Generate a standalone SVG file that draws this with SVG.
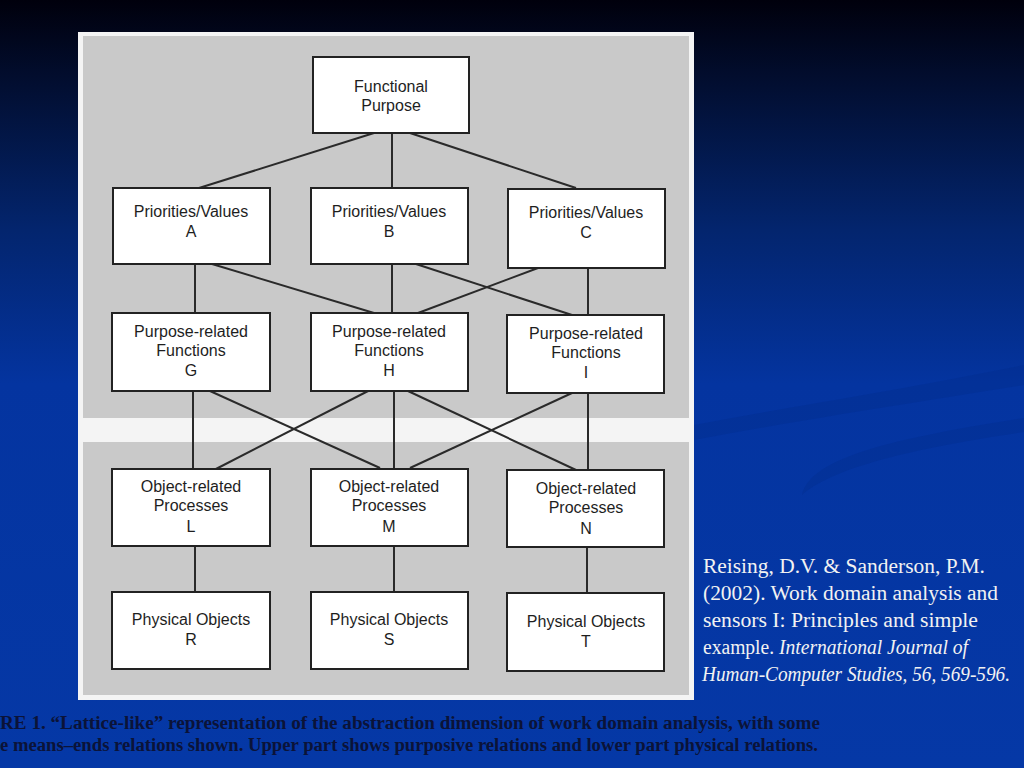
<svg xmlns="http://www.w3.org/2000/svg" width="1024" height="768" viewBox="0 0 1024 768">
<defs>
<linearGradient id="bg" x1="0" y1="0" x2="0" y2="1">
<stop offset="0" stop-color="#00000c"/>
<stop offset="0.1" stop-color="#020d2e"/>
<stop offset="0.3" stop-color="#03256e"/>
<stop offset="0.5" stop-color="#0434a0"/>
<stop offset="1" stop-color="#0538a6"/>
</linearGradient>
<style>
.box{fill:#ffffff;stroke:#222222;stroke-width:2}
.t{font-family:"Liberation Sans",Arial,sans-serif;font-size:16px;fill:#1e1e1e;text-anchor:middle}
.c line{stroke:#2a2a2a;stroke-width:2}
.cite{font-family:"Liberation Serif","Times New Roman",serif;font-size:20.5px;fill:#f2f2f2}
.cap{font-family:"Liberation Serif","Times New Roman",serif;font-size:18px;font-weight:bold;fill:#0b1338}
.sw{fill:#022a88;opacity:0.3}
</style>
</defs>
<rect width="1024" height="768" fill="url(#bg)"/>
<path class="sw" d="M694 425 C800 405 900 390 1024 365 L1024 385 C900 405 800 420 694 440 Z"/>
<path class="sw" d="M802 495 C810 460 880 440 1024 418 L1024 432 C900 450 830 470 802 495 Z"/>
<!-- panel -->
<rect x="78" y="32" width="616" height="668" fill="#f4f4f4"/>
<rect x="83" y="36" width="606" height="382" fill="#c9c9c9"/>
<rect x="83" y="442" width="606" height="253" fill="#c9c9c9"/>
<g class="c" id="connectors">
<line x1="374" y1="133" x2="199" y2="188"/>
<line x1="392" y1="133" x2="392" y2="188"/>
<line x1="410" y1="133" x2="576" y2="188"/>
<line x1="195" y1="264" x2="195" y2="313"/>
<line x1="212" y1="264" x2="374" y2="313"/>
<line x1="392" y1="264" x2="392" y2="313"/>
<line x1="416" y1="264" x2="572" y2="315"/>
<line x1="538" y1="268" x2="418" y2="313"/>
<line x1="588" y1="268" x2="588" y2="315"/>
<line x1="193" y1="391" x2="193" y2="468"/>
<line x1="210" y1="391" x2="380" y2="468"/>
<line x1="372" y1="389" x2="214" y2="470"/>
<line x1="394" y1="391" x2="394" y2="468"/>
<line x1="408" y1="391" x2="576" y2="470"/>
<line x1="572" y1="393" x2="410" y2="468"/>
<line x1="588" y1="393" x2="588" y2="470"/>
<line x1="195" y1="545" x2="195" y2="592"/>
<line x1="394" y1="545" x2="394" y2="592"/>
<line x1="587" y1="547" x2="587" y2="593"/>
</g>
<g id="fp"><rect class="box" x="313" y="57" width="156" height="76"/><text class="t" x="391" y="92">Functional</text><text class="t" x="391" y="111">Purpose</text></g>
<g id="pvA"><rect class="box" x="113" y="188" width="157" height="76"/><text class="t" x="191" y="217">Priorities/Values</text><text class="t" x="191" y="237">A</text></g>
<g id="pvB"><rect class="box" x="311" y="188" width="157" height="76"/><text class="t" x="389" y="217">Priorities/Values</text><text class="t" x="389" y="237">B</text></g>
<g id="pvC"><rect class="box" x="508" y="189" width="157" height="79"/><text class="t" x="586" y="218">Priorities/Values</text><text class="t" x="586" y="238">C</text></g>
<g id="prfG"><rect class="box" x="112" y="313" width="158" height="78"/><text class="t" x="191" y="337">Purpose-related</text><text class="t" x="191" y="356">Functions</text><text class="t" x="191" y="376">G</text></g>
<g id="prfH"><rect class="box" x="311" y="313" width="157" height="78"/><text class="t" x="389" y="337">Purpose-related</text><text class="t" x="389" y="356">Functions</text><text class="t" x="389" y="376">H</text></g>
<g id="prfI"><rect class="box" x="507" y="315" width="157" height="78"/><text class="t" x="586" y="339">Purpose-related</text><text class="t" x="586" y="358">Functions</text><text class="t" x="586" y="378">I</text></g>
<g id="orpL"><rect class="box" x="112" y="469" width="158" height="77"/><text class="t" x="191" y="492">Object-related</text><text class="t" x="191" y="511">Processes</text><text class="t" x="191" y="532">L</text></g>
<g id="orpM"><rect class="box" x="311" y="469" width="157" height="77"/><text class="t" x="389" y="492">Object-related</text><text class="t" x="389" y="511">Processes</text><text class="t" x="389" y="532">M</text></g>
<g id="orpN"><rect class="box" x="507" y="470" width="157" height="77"/><text class="t" x="586" y="494">Object-related</text><text class="t" x="586" y="513">Processes</text><text class="t" x="586" y="534">N</text></g>
<g id="poR"><rect class="box" x="112" y="592" width="158" height="77"/><text class="t" x="191" y="625">Physical Objects</text><text class="t" x="191" y="645">R</text></g>
<g id="poS"><rect class="box" x="311" y="592" width="157" height="77"/><text class="t" x="389" y="625">Physical Objects</text><text class="t" x="389" y="645">S</text></g>
<g id="poT"><rect class="box" x="507" y="593" width="157" height="78"/><text class="t" x="586" y="627">Physical Objects</text><text class="t" x="586" y="647">T</text></g>
<!-- caption -->
<text class="cap" x="0" y="729" textLength="820" lengthAdjust="spacingAndGlyphs">RE 1.  “Lattice-like” representation of the abstraction dimension of work domain analysis, with some</text>
<text class="cap" x="0" y="751" textLength="818" lengthAdjust="spacingAndGlyphs">e means–ends relations shown. Upper part shows purposive relations and lower part physical relations.</text>
<!-- citation -->
<text class="cite" x="703" y="573" textLength="282" lengthAdjust="spacingAndGlyphs">Reising, D.V. &amp; Sanderson, P.M.</text>
<text class="cite" x="703" y="600" textLength="295" lengthAdjust="spacingAndGlyphs">(2002). Work domain analysis and</text>
<text class="cite" x="703" y="627" textLength="275" lengthAdjust="spacingAndGlyphs">sensors I: Principles and simple</text>
<text class="cite" x="703" y="654" textLength="265" lengthAdjust="spacingAndGlyphs">example. <tspan font-style="italic">International Journal of</tspan></text>
<text class="cite" x="702" y="681" font-style="italic" font-size="19" textLength="308" lengthAdjust="spacingAndGlyphs">Human-Computer Studies, 56, 569-596.</text>
</svg>
